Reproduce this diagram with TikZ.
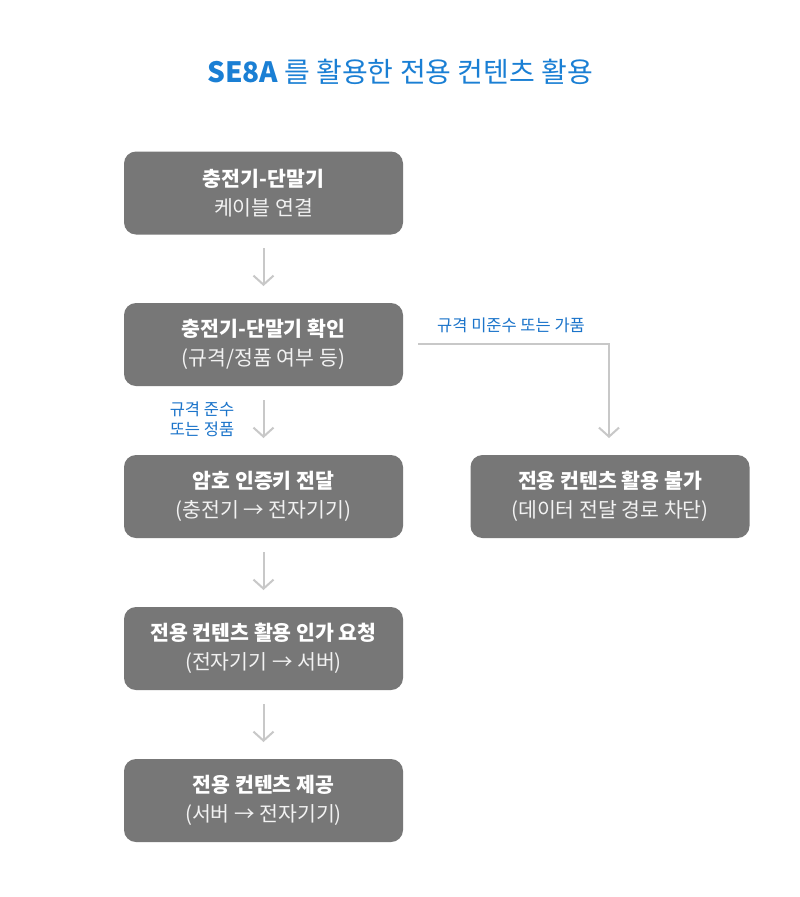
\documentclass[tikz,border=0pt]{standalone}
\usepackage{fontspec}
\setmainfont{Noto Sans CJK KR}
\usetikzlibrary{arrows.meta}
\definecolor{boxgray}{HTML}{777777}
\definecolor{arrgray}{HTML}{C8C8C8}
\definecolor{titleblue}{HTML}{1A7FD4}
\definecolor{lblblue}{HTML}{1B74CA}
\definecolor{subwhite}{HTML}{F2F2F2}
\begin{document}
\begin{tikzpicture}[x=1pt,y=-1pt,
  stepbox/.style={fill=boxgray, rounded corners=12pt, minimum width=279pt, minimum height=83pt, inner sep=0pt, align=center, text=white, font=\fontsize{20.5}{29}\selectfont},
  conn/.style={draw=arrgray, line width=2pt, -{Straight Barb[length=9pt,width=20pt,line width=2pt]}},
  lbl/.style={text=lblblue, font=\fontsize{16.5}{20}\selectfont, align=center, inner sep=0pt}
]
\useasboundingbox (0,0) rectangle (800,897);
\fill[white] (0,0) rectangle (800,897);
\newcommand{\boxtext}[2]{{\bfseries #1}\\{\color{subwhite}#2}}
\node[text=titleblue, inner sep=0pt] (title) at (400,72) {\fontsize{28}{32}\selectfont{\bfseries SE8A} 를 활용한 전용 컨텐츠 활용};
\node[stepbox] (b1) at (263.5,193) {\boxtext{충전기-단말기}{케이블 연결}};
\node[stepbox] (b2) at (263.5,344.5) {\boxtext{충전기-단말기 확인}{(규격/정품 여부 등)}};
\node[stepbox] (b3) at (263.5,496.5) {\boxtext{암호 인증키 전달}{(충전기 → 전자기기)}};
\node[stepbox] (b4) at (263.5,648.5) {\boxtext{전용 컨텐츠 활용 인가 요청}{(전자기기 → 서버)}};
\node[stepbox] (b5) at (263.5,800.5) {\boxtext{전용 컨텐츠 제공}{(서버 → 전자기기)}};
\node[stepbox] (r3) at (610,496.5) {\boxtext{전용 컨텐츠 활용 불가}{(데이터 전달 경로 차단)}};
\coordinate (c12a) at (263.5,248); \coordinate (c12b) at (263.5,286);
\coordinate (c23a) at (263.5,400); \coordinate (c23b) at (263.5,438);
\coordinate (c34a) at (263.5,552); \coordinate (c34b) at (263.5,590);
\coordinate (c45a) at (263.5,704); \coordinate (c45b) at (263.5,742);
\coordinate (rs) at (418,344); \coordinate (rc) at (609,344); \coordinate (re) at (609,438);
\draw[conn] (c12a) -- (c12b);
\draw[conn] (c23a) -- (c23b);
\draw[conn] (c34a) -- (c34b);
\draw[conn] (c45a) -- (c45b);
\draw[conn] (rs) -- (rc) -- (re);
\node[lbl, anchor=west] (l1) at (437,325) {규격 미준수 또는 가품};
\node[lbl] (l2) at (202,419) {규격 준수\\또는 정품};
\end{tikzpicture}
\end{document}
